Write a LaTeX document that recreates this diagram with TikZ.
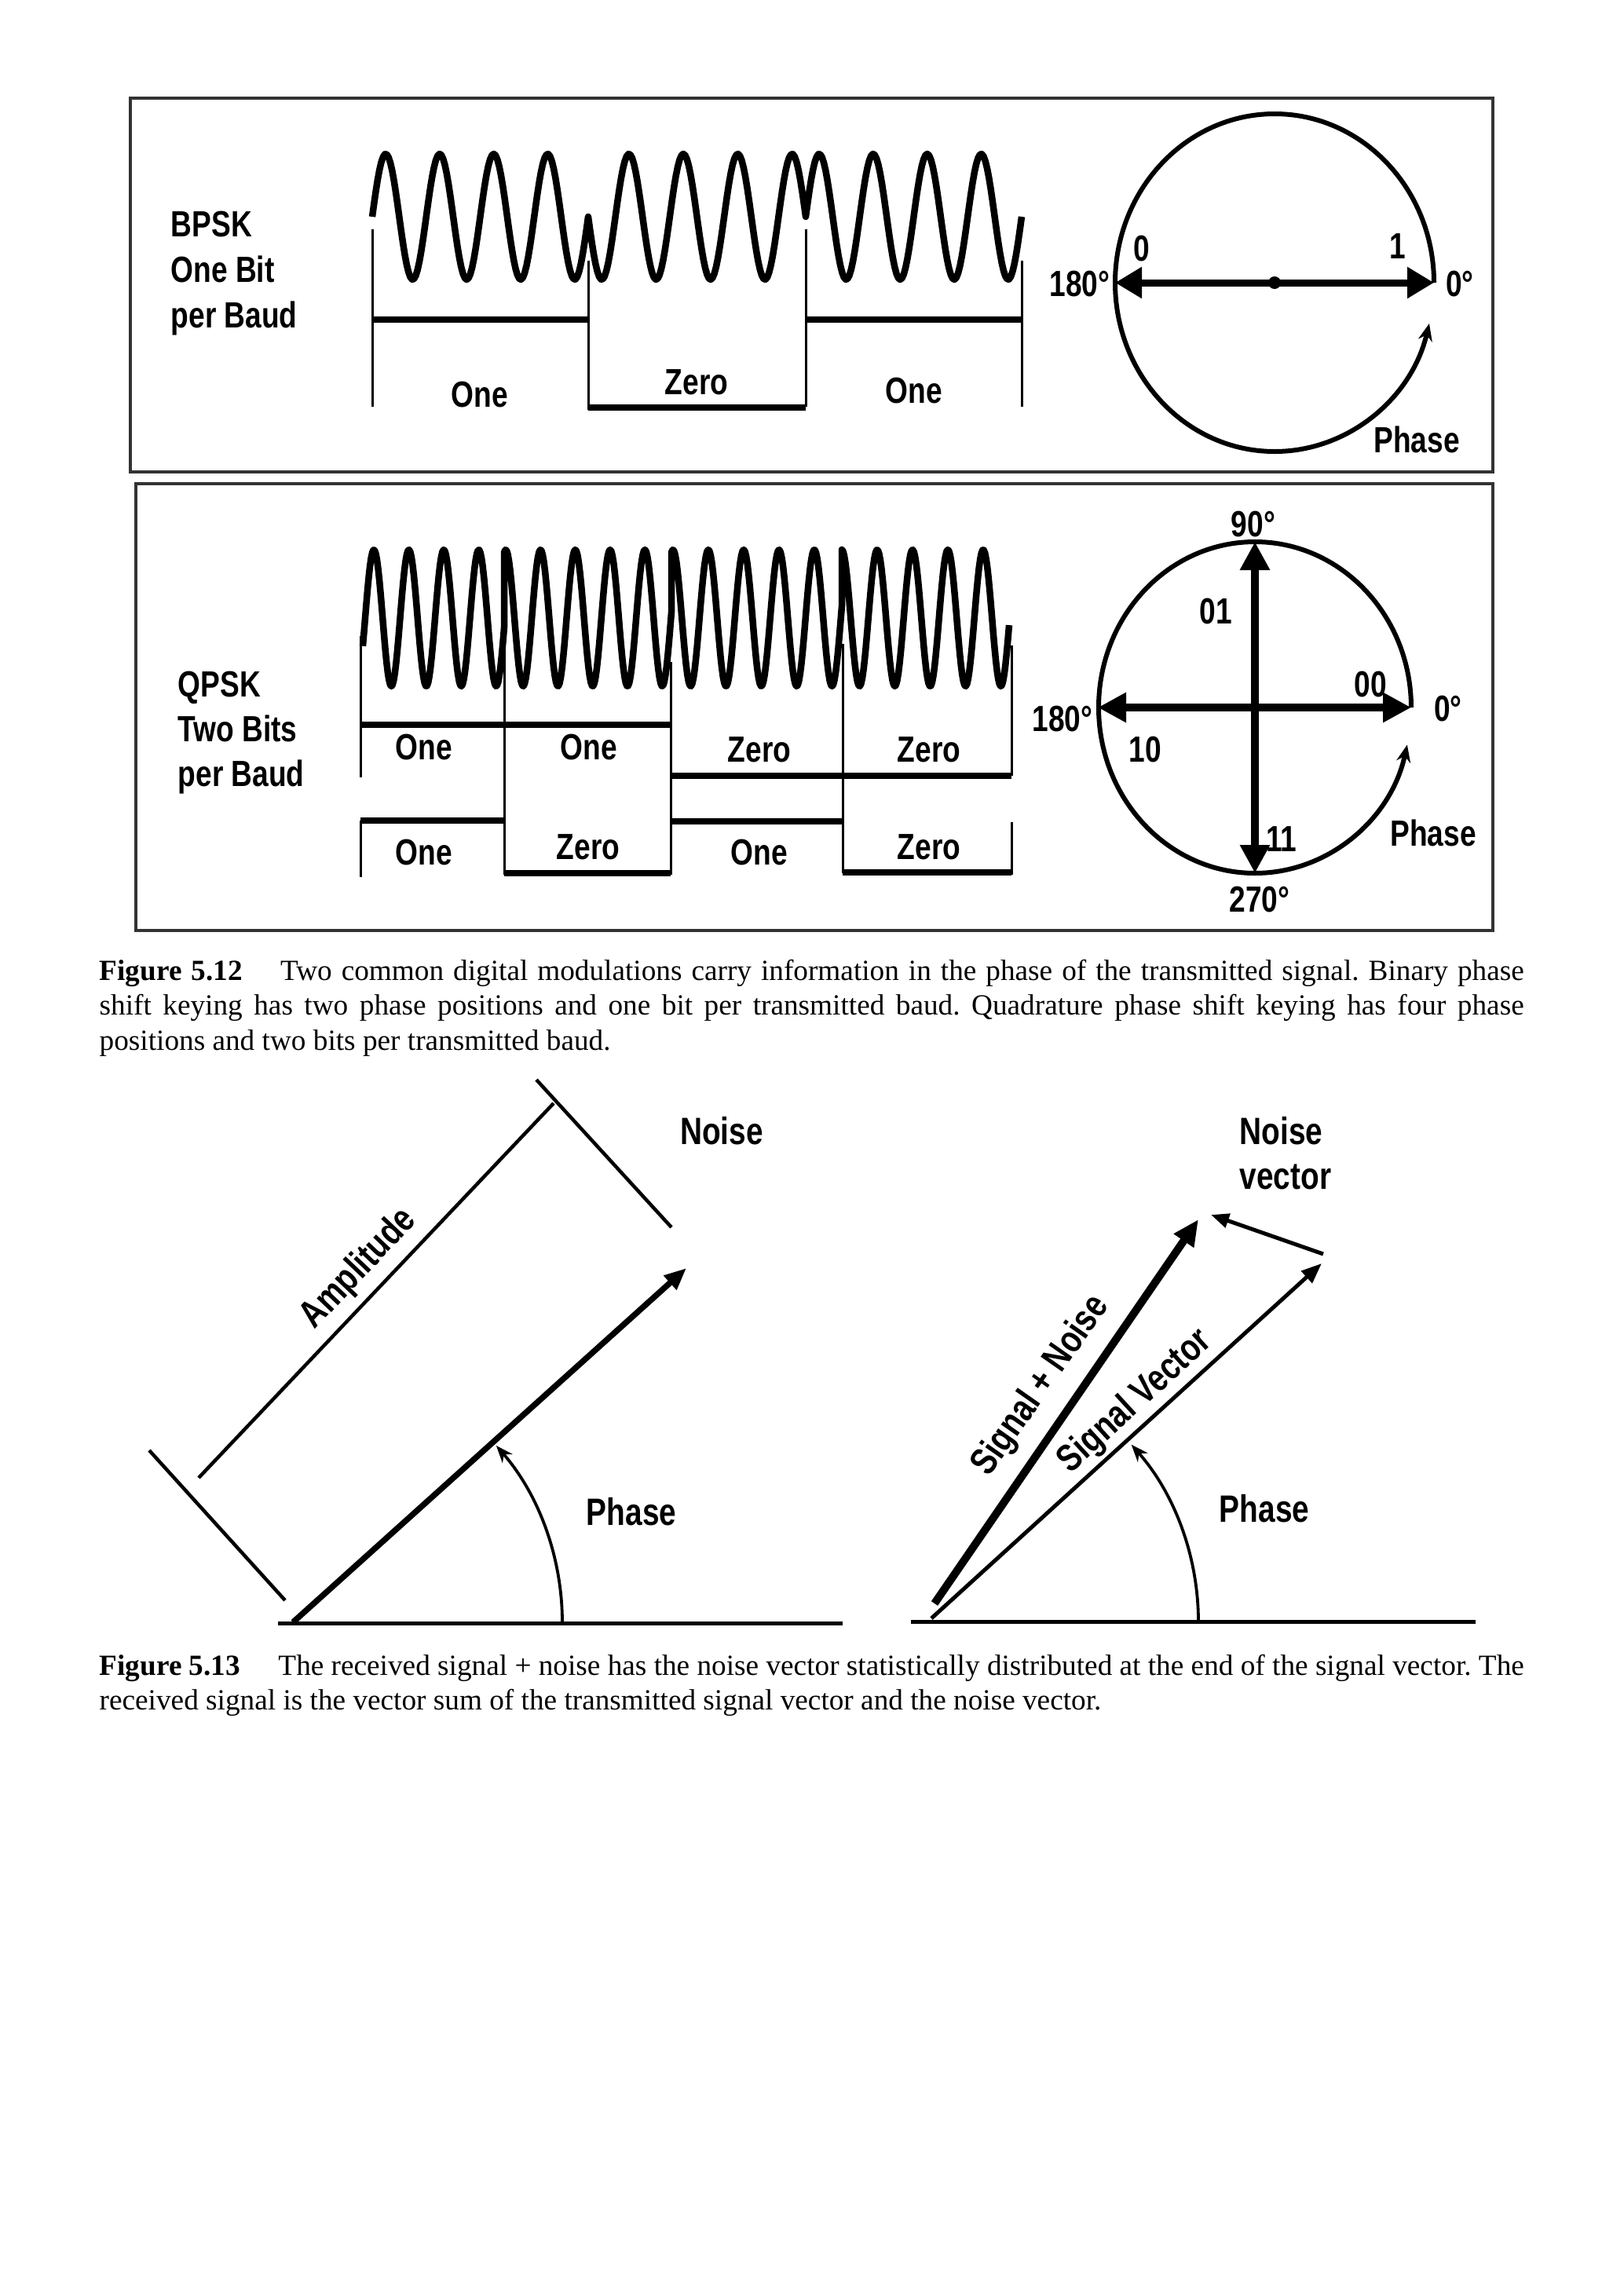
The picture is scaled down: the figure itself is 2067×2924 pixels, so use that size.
\documentclass[tikz,border=0pt]{standalone}
\usepackage{fontspec}
\setmainfont{Liberation Serif}
\newfontfamily\cond[FakeStretch=0.8,UprightFont=* Bold]{Liberation Sans}
\usetikzlibrary{arrows.meta}
\begin{document}
\begin{tikzpicture}[x=0.1mm, y=-0.1mm,
  lab/.style={font=\cond\fontsize{13.2}{15.8}\selectfont, inner sep=0pt},
  labb/.style={font=\cond\fontsize{13.8}{16.5}\selectfont, inner sep=0pt},
  frame/.style={draw=black!80, line width=0.35mm},
  wave/.style={line width=0.85mm, line join=round},
  sq/.style={line width=0.75mm},
  vline/.style={line width=0.3mm},
  circ/.style={line width=0.6mm},
  phasetip/.style={-{Stealth[length=2.2mm,width=1.8mm]}},
  barrow/.style={line width=0.9mm, {Triangle[length=3.4mm,width=3.8mm]}-{Triangle[length=3.4mm,width=3.8mm]}},
  qarrow/.style={line width=1.0mm, {Triangle[length=3.6mm,width=3.6mm]}-{Triangle[length=3.6mm,width=3.6mm]}},
  captext/.style={anchor=base west, text width=181.4mm, align=justify, inner sep=0pt,
    font=\fontsize{10.6}{12.66}\selectfont}
]
\useasboundingbox (0,0) rectangle (2067,2924);

% ---------------- BPSK box ----------------
\draw[frame] (166,125) rectangle (1901,601);
\node[lab, anchor=base west] (bl1) at (217,301) {BPSK};
\node[lab, anchor=base west] (bl2) at (217,359) {One Bit};
\node[lab, anchor=base west] (bl3) at (217,417) {per Baud};

\draw[wave] plot[domain=474:749, samples=120] (\x, {276-80*sin(((\x-474)/68.75)*360)})
  -- plot[domain=749:1026, samples=120] (\x, {276+80*sin(((\x-749)/69.25)*360)})
  -- plot[domain=1026:1301, samples=120] (\x, {276-80*sin(((\x-1026)/68.75)*360)});

\draw[vline] (474,292) -- (474,518);
\draw[vline] (749,332) -- (749,522);
\draw[vline] (1026,292) -- (1026,518);
\draw[vline] (1301,332) -- (1301,518);
\draw[sq] (474,407) -- (749,407);
\draw[sq] (749,519) -- (1026,519);
\draw[sq] (1026,407) -- (1301,407);

\node[lab] (bone1) at (611,503) {One};
\node[lab] (bzero) at (887,487) {Zero};
\node[lab] (bone2) at (1164,498) {One};

\coordinate (bc) at (1623,360);
\coordinate (b0) at (1826,360);
\coordinate (b180) at (1420,360);
\draw[circ, phasetip] (b0) arc[start angle=0, end angle=346, x radius=20.3mm, y radius=21.5mm];
\draw[barrow] (b180) -- (b0);
\fill (bc) circle[radius=0.8mm];
\node[lab] (bz) at (1454,317) {0};
\node[lab] (bo) at (1780,314) {1};
\node[lab] (b180l) at (1375,362) {180°};
\node[lab] (b0l) at (1859,362) {0°};
\node[lab] (bph) at (1804,560) {Phase};

% ---------------- QPSK box ----------------
\draw[frame] (173,616) rectangle (1901,1185);
\node[lab, anchor=base west] (ql1) at (226,887) {QPSK};
\node[lab, anchor=base west] (ql2) at (226,944) {Two Bits};
\node[lab, anchor=base west] (ql3) at (226,1001) {per Baud};

\draw[wave] plot[domain=462:642, samples=120] (\x, {787-87*sin(((\x-465)/44.5)*360)})
  -- plot[domain=642:855, samples=140] (\x, {787-87*cos(((\x-644)/44.3)*360)})
  -- plot[domain=855:1072, samples=140] (\x, {787-87*cos(((\x-857)/45)*360)})
  -- plot[domain=1072:1285, samples=140] (\x, {787-87*cos(((\x-1072)/45)*360)});

\draw[vline] (459,810) -- (459,990);
\draw[vline] (459,1045) -- (459,1117);
\draw[vline] (642,787) -- (642,1114);
\draw[vline] (854,843) -- (854,1114);
\draw[vline] (1073,820) -- (1073,1112);
\draw[vline] (1288,822) -- (1288,988);
\draw[vline] (1288,1047) -- (1288,1114);

\draw[sq] (459,923) -- (854,923);
\draw[sq] (854,988) -- (1288,988);
\draw[sq] (459,1045) -- (642,1045);
\draw[sq] (642,1112) -- (854,1112);
\draw[sq] (854,1046) -- (1073,1046);
\draw[sq] (1073,1111) -- (1288,1111);

\node[lab] (qu1) at (540,952) {One};
\node[lab] (qu2) at (750,952) {One};
\node[lab] (qu3) at (967,955) {Zero};
\node[lab] (qu4) at (1183,955) {Zero};
\node[lab] (qd1) at (540,1086) {One};
\node[lab] (qd2) at (749,1079) {Zero};
\node[lab] (qd3) at (967,1086) {One};
\node[lab] (qd4) at (1183,1079) {Zero};

\coordinate (qc) at (1598,901);
\coordinate (q0) at (1797,901);
\coordinate (q180) at (1398,901);
\coordinate (q90) at (1598,690);
\coordinate (q270) at (1598,1112);
\draw[circ, phasetip] (q0) arc[start angle=0, end angle=347, x radius=19.9mm, y radius=21.1mm];
\draw[qarrow] (q180) -- (q0);
\draw[qarrow] (q90) -- (q270);
\node[lab] (q90l) at (1596,668) {90°};
\node[lab] (q270l) at (1604,1146) {270°};
\node[lab] (q180l) at (1353,916) {180°};
\node[lab] (q0l) at (1844,903) {0°};
\node[lab] (q01) at (1548,779) {01};
\node[lab] (q00) at (1745,872) {00};
\node[lab] (q10) at (1458,955) {10};
\node[lab] (q11) at (1632,1069) {11};
\node[lab] (qph) at (1825,1061) {Phase};

% ---------------- Caption 5.12 ----------------
\node[captext] (cap1) at (126,1248) {\frenchspacing\tolerance=9000\textbf{Figure 5.12}\hspace{1.3em}Two common digital modulations carry information in the phase of the transmitted signal. Binary phase\linebreak shift keying has two phase positions and one bit per transmitted baud. Quadrature phase shift keying has four phase\linebreak positions and two bits per transmitted baud.};

% ---------------- Figure 5.13 left ----------------
\coordinate (la) at (354,2067);
\coordinate (lb) at (1073,2067);
\coordinate (o1) at (373,2066);
\coordinate (v1) at (874,1615);
\coordinate (am1) at (253,1882);
\coordinate (am2) at (705,1405);
\coordinate (t1a) at (190,1847);
\coordinate (t1b) at (363,2038);
\coordinate (t2a) at (683,1375);
\coordinate (t2b) at (855,1563);
\coordinate (p1) at (716,2066);
\draw[line width=0.5mm] (la) -- (lb);
\draw[line width=0.75mm, -{Triangle[length=2.8mm,width=2.3mm]}] (o1) -- (v1);
\draw[line width=0.45mm] (am1) -- (am2);
\draw[line width=0.45mm] (t1a) -- (t1b);
\draw[line width=0.45mm] (t2a) -- (t2b);
\draw[line width=0.38mm, -{Stealth[length=2.2mm,width=1.7mm]}] (p1) arc[start angle=0, end angle=41, radius=34.3mm];
\node[labb] (noise1) at (919,1440) {Noise};
\node[labb, rotate=46.5] (ampl) at (457,1616) {Amplitude};
\node[labb] (ph1) at (804,1925) {Phase};

% ---------------- Figure 5.13 right ----------------
\coordinate (ra) at (1160,2065);
\coordinate (rb) at (1879,2065);
\coordinate (o2) at (1186,2061);
\coordinate (o2b) at (1190,2042);
\coordinate (sn) at (1526,1553);
\coordinate (sv) at (1683,1609);
\coordinate (nv0) at (1685,1597);
\coordinate (nv1) at (1542,1547);
\coordinate (p2) at (1526,2065);
\draw[line width=0.5mm] (ra) -- (rb);
\draw[line width=1.0mm, -{Triangle[length=3.3mm,width=2.9mm]}] (o2b) -- (sn);
\draw[line width=0.5mm, -{Triangle[length=2.6mm,width=2.0mm]}] (o2) -- (sv);
\draw[line width=0.5mm, -{Triangle[length=2.3mm,width=1.8mm]}] (nv0) -- (nv1);
\draw[line width=0.38mm, -{Stealth[length=2.2mm,width=1.7mm]}] (p2) arc[start angle=0, end angle=41.5, radius=34.0mm];
\node[labb, anchor=base west] (nvl1) at (1578,1457) {Noise};
\node[labb, anchor=base west] (nvl2) at (1578,1514) {vector};
\node[labb, rotate=55] (snl) at (1326,1765) {Signal + Noise};
\node[labb, rotate=42.5] (svl) at (1446,1785) {Signal Vector};
\node[labb] (ph2) at (1610,1921) {Phase};

% ---------------- Caption 5.13 ----------------
\node[captext] (cap2) at (126,2133) {\frenchspacing\tolerance=9000\textbf{Figure 5.13}\hspace{1.3em}The received signal + noise has the noise vector statistically distributed at the end of the signal vector. The\linebreak received signal is the vector sum of the transmitted signal vector and the noise vector.};
\end{tikzpicture}
\end{document}
